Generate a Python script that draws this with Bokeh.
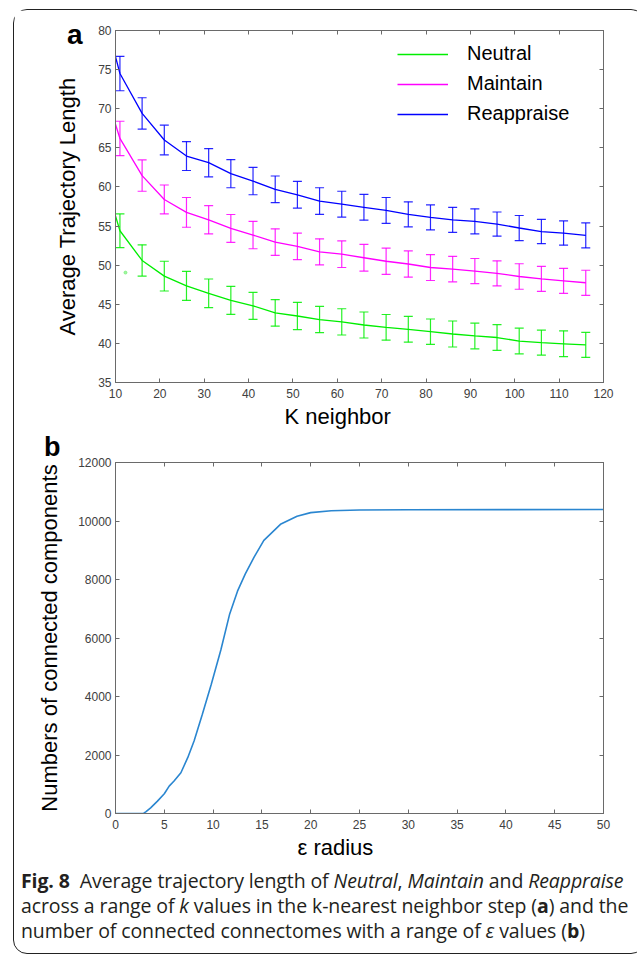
from bokeh.plotting import figure
from bokeh.models import (ColumnDataSource, Whisker, TeeHead, LinearAxis, Div, Title, Range1d)
from bokeh.layouts import column
from bokeh.embed import file_html
from bokeh.resources import INLINE

# ---------------- data: panel a ----------------
k_values = [6, 11, 16, 21, 26, 31, 36, 41, 46, 51, 56, 61, 66, 71, 76, 81, 86, 91, 96, 101, 106, 111, 116]
neutral = [63.9, 54.4, 50.6, 48.6, 47.35, 46.4, 45.5, 44.8, 43.9, 43.5, 43.05, 42.75, 42.35, 42.05,
           41.8, 41.5, 41.2, 40.95, 40.75, 40.3, 40.1, 39.95, 39.8]
neutral_err = [2.3, 2.15, 2.0, 1.9, 1.86, 1.83, 1.8, 1.72, 1.7, 1.75, 1.67, 1.68, 1.66, 1.64, 1.65,
               1.62, 1.66, 1.64, 1.64, 1.64, 1.6, 1.65, 1.6]
maintain = [75.2, 66.2, 61.45, 58.4, 56.75, 55.8, 54.7, 53.85, 52.95, 52.4, 51.7, 51.4, 50.95, 50.5,
            50.15, 49.7, 49.5, 49.25, 48.95, 48.55, 48.25, 48.0, 47.75]
maintain_err = [2.3, 2.2, 2.0, 1.85, 1.9, 1.8, 1.78, 1.75, 1.7, 1.7, 1.67, 1.7, 1.7, 1.68, 1.67,
                1.66, 1.63, 1.6, 1.6, 1.63, 1.6, 1.6, 1.6]
reappraise = [85.3, 74.5, 69.4, 66.0, 63.95, 63.1, 61.7, 60.75, 59.7, 59.0, 58.2, 57.8, 57.4, 57.0,
              56.5, 56.1, 55.8, 55.6, 55.25, 54.75, 54.3, 54.1, 53.8]
reappraise_err = [2.4, 2.2, 2.0, 1.9, 1.85, 1.8, 1.8, 1.75, 1.7, 1.7, 1.7, 1.65, 1.65, 1.65, 1.6,
                  1.6, 1.6, 1.6, 1.55, 1.6, 1.55, 1.55, 1.6]
series_names = ["Neutral", "Maintain", "Reappraise"]
series_colors = ["#00ee00", "#ff00ff", "#0000ff"]
stray_k = [12.25]
stray_val = [49.05]
x_ticks_a = [10, 20, 30, 40, 50, 60, 70, 80, 90, 100, 110, 120]
y_ticks_a = [35, 40, 45, 50, 55, 60, 65, 70, 75, 80]

# ---------------- data: panel b ----------------
eps = [0, 2.5, 2.9, 3.1, 3.6, 4.3, 5.0, 5.5, 6.0, 6.7, 7.4, 8.05, 8.9, 9.8, 10.8, 11.7, 12.5,
       13.3, 14.2, 15.2, 16.9, 18.6, 20.0, 22.1, 25, 30, 40, 50]
components = [0, 0, 10, 57, 194, 423, 674, 937, 1109, 1394, 1909, 2480, 3394, 4400, 5600, 6823, 7600,
              8194, 8766, 9337, 9886, 10160, 10286, 10350, 10375, 10385, 10390, 10395]
x_ticks_b = [0, 5, 10, 15, 20, 25, 30, 35, 40, 45, 50]
y_ticks_b = [0, 2000, 4000, 6000, 8000, 10000, 12000]

FONT = "Liberation Sans"
AXIS_GRAY = "#6a6a6a"
TICK_TXT = "#404040"


def style_axis(ax, show_labels=True):
    ax.axis_line_color = AXIS_GRAY
    ax.axis_line_width = 1
    ax.major_tick_line_color = AXIS_GRAY
    ax.major_tick_in = 4
    ax.major_tick_out = 0
    ax.minor_tick_line_color = None
    ax.major_label_text_font = FONT
    ax.axis_label_text_font = FONT
    ax.axis_label_text_font_style = "normal"
    ax.axis_label_text_font_size = "22px"
    ax.axis_label_text_color = "black"
    if show_labels:
        ax.major_label_text_font_size = "12px"
        ax.major_label_text_color = TICK_TXT
    else:
        ax.major_label_text_font_size = "1px"
        ax.major_label_text_color = None
        ax.major_label_standoff = 0


def below_title(text, offset, standoff):
    return Title(text=text, align="left", offset=offset, standoff=standoff,
                 text_font=FONT, text_font_size="22px", text_font_style="normal",
                 text_color="black")


def panel_letter(text, left, top, size):
    return Div(text=text, width=24, height=32,
               styles={"position": "absolute", "left": f"{left}px", "top": f"{top}px",
                       "z-index": "10", "font-family": FONT, "font-weight": "bold",
                       "font-size": size, "line-height": size, "color": "black"})


# ---------------- panel a ----------------
p1 = figure(frame_width=488, frame_height=352, x_range=Range1d(10, 120), y_range=Range1d(35, 80),
            output_backend="svg", toolbar_location=None,
            min_border_left=100, min_border_right=32, min_border_top=20, min_border_bottom=50)
p1.xgrid.visible = False
p1.ygrid.visible = False
p1.outline_line_color = AXIS_GRAY
p1.xaxis.ticker = x_ticks_a
p1.yaxis.ticker = y_ticks_a
style_axis(p1.xaxis[0])
style_axis(p1.yaxis[0])
p1.xaxis.major_label_standoff = 6
p1.yaxis.major_label_standoff = 4
p1.yaxis.axis_label = "Average Trajectory Length"
p1.yaxis.axis_label_standoff = 15
top_a = LinearAxis(ticker=x_ticks_a)
style_axis(top_a, False)
p1.add_layout(top_a, "above")
right_a = LinearAxis(ticker=y_ticks_a)
style_axis(right_a, False)
p1.add_layout(right_a, "right")

for name, vals, errs, col in zip(series_names, [neutral, maintain, reappraise],
                                 [neutral_err, maintain_err, reappraise_err], series_colors):
    p1.line(k_values, vals, line_color=col, line_width=1.3, legend_label=name)
    kk = [k for k in k_values if k >= 10]
    hi = [v + e for k, v, e in zip(k_values, vals, errs) if k >= 10]
    lo = [v - e for k, v, e in zip(k_values, vals, errs) if k >= 10]
    src = ColumnDataSource(dict(k=kk, hi=hi, lo=lo))
    w = Whisker(base="k", upper="hi", lower="lo", source=src, line_color=col, line_width=1.2,
                line_alpha=0.85, level="glyph",
                upper_head=TeeHead(size=9, line_color=col, line_width=1.2, line_alpha=0.85),
                lower_head=TeeHead(size=9, line_color=col, line_width=1.2, line_alpha=0.85))
    p1.add_layout(w)

p1.scatter(stray_k, stray_val, size=3, color="#66ee66", alpha=0.6)

lg = p1.legend[0]
lg.location = (282, 257)
lg.border_line_color = None
lg.background_fill_alpha = 0
lg.padding = 0
lg.spacing = 7
lg.glyph_width = 51
lg.glyph_height = 20
lg.label_standoff = 19
lg.label_text_font = FONT
lg.label_text_font_size = "20px"
lg.label_text_color = "black"

p1.add_layout(below_title("K neighbor", 169, 2), "below")

# ---------------- panel b ----------------
p2 = figure(frame_width=488, frame_height=351, x_range=Range1d(0, 50), y_range=Range1d(0, 12000),
            output_backend="svg", toolbar_location=None,
            min_border_left=101, min_border_right=31, min_border_top=30, min_border_bottom=55)
p2.xgrid.visible = False
p2.ygrid.visible = False
p2.outline_line_color = AXIS_GRAY
p2.xaxis.ticker = x_ticks_b
p2.yaxis.ticker = y_ticks_b
style_axis(p2.xaxis[0])
style_axis(p2.yaxis[0])
p2.xaxis.major_label_standoff = 6
p2.yaxis.major_label_standoff = 4
p2.yaxis.axis_label = "Numbers of connected components"
p2.yaxis.axis_label_standoff = 13
top_b = LinearAxis(ticker=x_ticks_b)
style_axis(top_b, False)
p2.add_layout(top_b, "above")
right_b = LinearAxis(ticker=y_ticks_b)
style_axis(right_b, False)
p2.add_layout(right_b, "right")

p2.line(eps, components, line_color="#2a86d0", line_width=1.6)

p2.add_layout(below_title("\u03b5 radius", 182, 2), "below")

# ---------------- caption ----------------
caption_html = (
    '<div style="font-family: \'Open Sans\'; font-size: 19.5px; line-height: 25px; color: #231f20;'
    ' margin: 0; padding: 0 0 0 2px; white-space: nowrap; letter-spacing: -0.1px;'
    ' position: relative; top: -5px;">'
    '<b>Fig.&nbsp;8</b>&nbsp;&nbsp;Average trajectory length of <i>Neutral</i>, <i>Maintain</i> and <i>Reappraise</i><br>'
    'across a range of <i>k</i> values in the k-nearest neighbor step (<b>a</b>) and the<br>'
    'number of connected connectomes with a range of <i>\u03b5</i> values (<b>b</b>)'
    '</div>'
)
cap = Div(text=caption_html, width=620, height=75)

letter_a = panel_letter("a", 48, 6, "28px")
letter_b = panel_letter("b", 25, 419, "27px")

layout = column(p1, p2, cap, letter_a, letter_b, spacing=0,
                styles={"border": "1px solid #222222", "border-radius": "14px",
                        "margin-left": "13px", "margin-top": "9px"})

open("out.html", "w").write(file_html(layout, INLINE))
